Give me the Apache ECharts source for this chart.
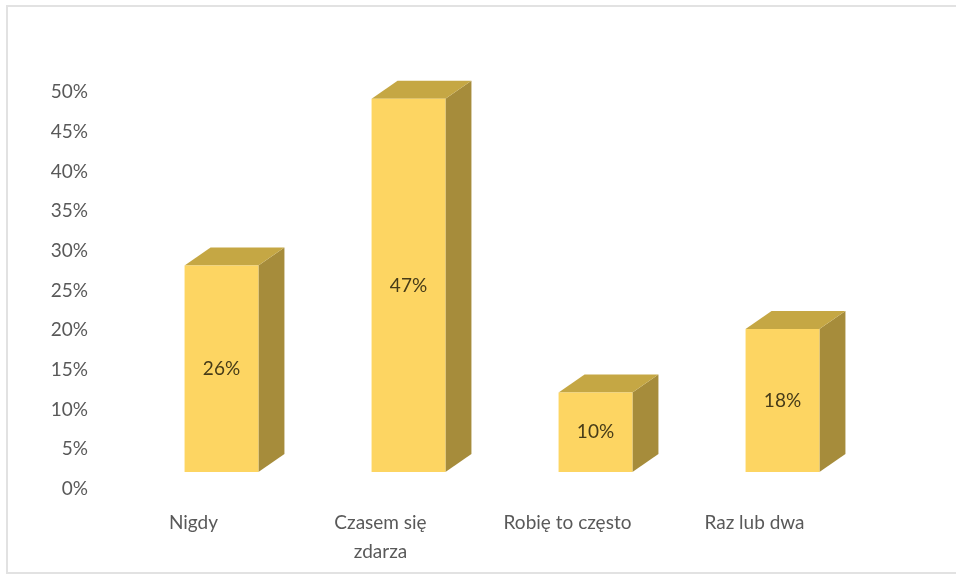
<!DOCTYPE html>
<html>
<head>
<meta charset="utf-8">
<script src="https://cdn.jsdelivr.net/npm/echarts@6/dist/echarts.min.js"></script>
<style>
  html, body { margin: 0; padding: 0; background: #ffffff; }
  #chart { width: 956px; height: 579px; }
</style>
</head>
<body>
<div id="chart"></div>
<script>
// Survey answers and their shares (percent)
const categories = ['Nigdy', 'Czasem się\nzdarza', 'Robię to często', 'Raz lub dwa'];
const shares = [26, 47, 10, 18];
const axisMin = 0;
const axisMax = 50;
const axisStep = 5;

const FONT = 'Lato, "Open Sans", sans-serif';
const FRONT = '#FDD562';
const TOP = '#C5A744';
const SIDE = '#A68C3B';
// front face sits one step back from the axis plane
const SHIFT_X = 28;
const SHIFT_Y = -17;
// column depth
const DEPTH_X = 26;
const DEPTH_Y = -18;

// Pseudo-3D column: front face, top face and right side face
function renderColumn(params, api) {
  const idx = api.value(0);
  const val = api.value(1);
  const topPt = api.coord([idx, val]);
  const basePt = api.coord([idx, 0]);
  const band = api.size([1, 0])[0];
  const w = band * 0.395;
  const x0 = topPt[0] - w / 2 + SHIFT_X;
  const x1 = x0 + w;
  const yT = topPt[1] + SHIFT_Y;
  const yB = basePt[1] + SHIFT_Y;
  return {
    type: 'group',
    children: [
      {
        type: 'polygon',
        shape: { points: [[x1, yT], [x1 + DEPTH_X, yT + DEPTH_Y], [x1 + DEPTH_X, yB + DEPTH_Y], [x1, yB]] },
        style: { fill: SIDE }
      },
      {
        type: 'polygon',
        shape: { points: [[x0, yT], [x0 + DEPTH_X, yT + DEPTH_Y], [x1 + DEPTH_X, yT + DEPTH_Y], [x1, yT]] },
        style: { fill: TOP }
      },
      {
        type: 'rect',
        shape: { x: x0, y: yT, width: w, height: yB - yT },
        style: { fill: FRONT }
      },
      {
        type: 'text',
        style: {
          text: val + '%',
          x: (x0 + x1) / 2,
          y: (yT + yB) / 2,
          align: 'center',
          verticalAlign: 'middle',
          font: '19px ' + FONT,
          fill: '#463B18'
        }
      }
    ]
  };
}

const chart = echarts.init(document.getElementById('chart'), null, { renderer: 'canvas' });
chart.setOption({
  backgroundColor: '#ffffff',
  animation: false,
  graphic: [
    {
      type: 'rect',
      shape: { x: 7, y: 6, width: 980, height: 567 },
      style: { fill: 'none', stroke: '#E2E2E2', lineWidth: 2 },
      z: 0
    }
  ],
  grid: { left: 100, right: 108, top: 92, bottom: 90, containLabel: false },
  xAxis: {
    type: 'category',
    data: categories,
    axisLine: { show: false },
    axisTick: { show: false },
    axisLabel: {
      margin: 19,
      color: '#595959',
      fontFamily: FONT,
      fontSize: 19,
      lineHeight: 29,
      interval: 0
    }
  },
  yAxis: {
    type: 'value',
    min: axisMin,
    max: axisMax,
    interval: axisStep,
    axisLine: { show: false },
    axisTick: { show: false },
    splitLine: { show: false },
    axisLabel: {
      margin: 12,
      color: '#595959',
      fontFamily: FONT,
      fontSize: 19,
      formatter: '{value}%'
    }
  },
  series: [
    {
      type: 'custom',
      renderItem: renderColumn,
      data: shares.map((v, i) => [i, v]),
      encode: { x: 0, y: 1 }
    }
  ]
});
</script>
</body>
</html>
